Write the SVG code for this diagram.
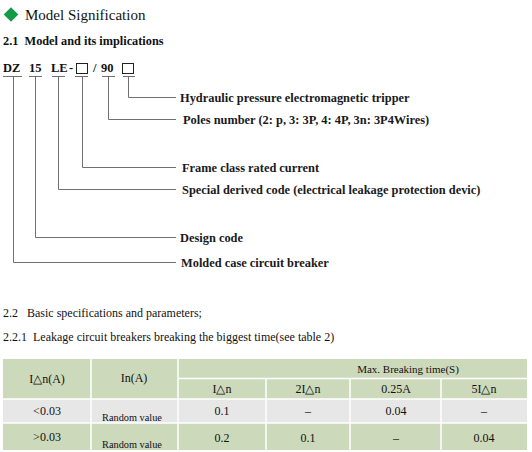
<svg xmlns="http://www.w3.org/2000/svg" width="532" height="452" viewBox="0 0 532 452">
<style>
.t{font-family:"Liberation Serif","Times New Roman",serif;fill:#111}
.b{font-weight:bold}
.lbl{font-family:"Liberation Serif","Times New Roman",serif;font-size:12.4px;font-weight:bold;fill:#1a1a1a}
.ln{stroke:#707070;stroke-width:1;fill:none}
.box{stroke:#222;stroke-width:1;fill:none}
.tc{font-family:"Liberation Serif","Times New Roman",serif;fill:#111;text-anchor:middle}
.hdr{fill:#cdd9bb}
.grey{fill:#e7e7e7}
.grid{stroke:#fff;stroke-width:1.5}
</style>
<rect width="532" height="452" fill="#fff"/>
<g id="title">
<polygon points="11,7.3 18.3,14.5 11,21.7 3.7,14.5" fill="#159a48"/>
<text class="t" x="25" y="20" font-size="15">Model Signification</text>
</g>
<g id="heading21"><text class="t b" x="3" y="45" font-size="12.3">2.1&#160; Model and its implications</text></g>
<g id="code">
<text class="t b" x="3" y="72" font-size="12.5">DZ</text>
<text class="t b" x="29" y="72" font-size="12.5">15</text>
<text class="t b" x="51" y="72" font-size="12.5">LE</text>
<text class="t b" x="69" y="72" font-size="12.5">-</text>
<rect class="box" x="76.5" y="63.5" width="11" height="10"/>
<text class="t b" x="93" y="72" font-size="12.5">/</text>
<text class="t b" x="101" y="72" font-size="12.5">90</text>
<rect class="box" x="122.5" y="63.5" width="11" height="10"/>
</g>
<g id="connectors">
<path class="ln" d="M3,76.5H22 M29,76.5H42 M52,76.5H65 M75,76.5H88 M102,76.5H115 M123,76.5H135"/>
<path class="ln" d="M128.5,76.5V97.5H176"/>
<path class="ln" d="M108.5,76.5V119.5H176"/>
<path class="ln" d="M82.5,76.5V167.5H176"/>
<path class="ln" d="M58.5,76.5V189.5H176"/>
<path class="ln" d="M35.5,76.5V237.5H176"/>
<path class="ln" d="M13.5,76.5V262.5H176"/>
</g>
<g id="lbl-hydraulic"><text class="lbl" x="180" y="101.5">Hydraulic pressure electromagnetic tripper</text></g>
<g id="lbl-poles"><text class="lbl" x="183" y="123.5">Poles number (2: p, 3: 3P, 4: 4P, 3n: 3P4Wires)</text></g>
<g id="lbl-frame"><text class="lbl" x="182" y="171.5">Frame class rated current</text></g>
<g id="lbl-special"><text class="lbl" x="182" y="193.5">Special derived code (electrical leakage protection devic)</text></g>
<g id="lbl-design"><text class="lbl" x="180" y="241.5">Design code</text></g>
<g id="lbl-molded"><text class="lbl" x="181" y="266.5">Molded case circuit breaker</text></g>
<g id="heading22"><text class="t" x="3" y="317" font-size="12">2.2&#160;&#160; Basic specifications and parameters;</text></g>
<g id="heading221"><text class="t" x="3" y="341" font-size="12">2.2.1&#160; Leakage circuit breakers breaking the biggest time(see table 2)</text></g>
<g id="table">
<rect class="hdr" x="3" y="359" width="524" height="40"/>
<rect class="grey" x="3" y="399" width="524" height="24"/>
<rect class="hdr" x="3" y="423" width="524" height="27"/>
<path class="grid" d="M3,399H527 M3,423H527 M178,378.5H527 M91,359V450 M178,359V450 M266,378.5V450 M350,378.5V450 M441,378.5V450"/>
<g font-size="12">
<text class="tc" x="47" y="383">I△n(A)</text>
<text class="tc" x="134" y="382">In(A)</text>
<text class="tc" x="408" y="373" font-size="11">Max. Breaking time(S)</text>
<text class="tc" x="222" y="393">I△n</text>
<text class="tc" x="308" y="393">2I△n</text>
<text class="tc" x="396" y="393">0.25A</text>
<text class="tc" x="484" y="393">5I△n</text>
<text class="tc" x="47" y="415">&lt;0.03</text>
<text class="tc" x="132" y="421" font-size="10.3">Random value</text>
<text class="tc" x="222" y="415">0.1</text>
<text class="tc" x="308" y="415">–</text>
<text class="tc" x="396" y="415">0.04</text>
<text class="tc" x="484" y="415">–</text>
<text class="tc" x="47" y="441">&gt;0.03</text>
<text class="tc" x="132" y="448" font-size="10.3">Random value</text>
<text class="tc" x="222" y="442">0.2</text>
<text class="tc" x="308" y="442">0.1</text>
<text class="tc" x="396" y="442">–</text>
<text class="tc" x="484" y="442">0.04</text>
</g>
</g>
</svg>
